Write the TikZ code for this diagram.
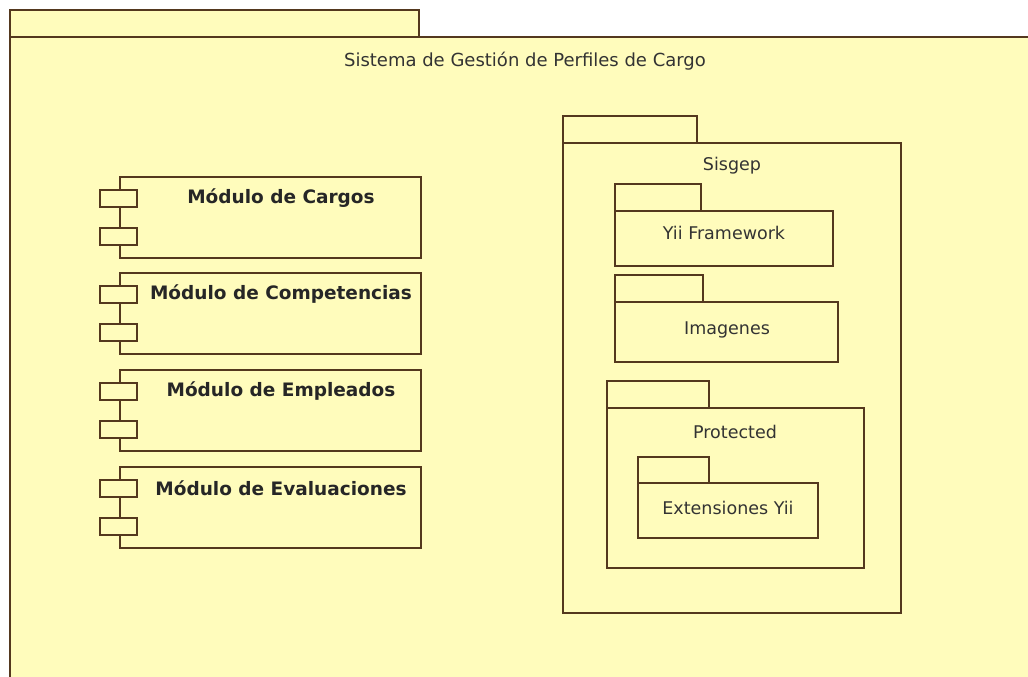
\documentclass[tikz,border=0pt]{standalone}
\usepackage{fontspec}
\setmainfont{DejaVu Sans}
\usetikzlibrary{positioning}

\definecolor{umlfill}{RGB}{255,252,188}
\definecolor{umlline}{RGB}{84,56,30}

\begin{document}
\begin{tikzpicture}[x=1pt,y=-1pt,
  pkgbody/.style={draw=umlline, fill=umlfill, line width=1.5pt, rectangle, anchor=north west, inner sep=0pt, outer sep=0pt},
  pkgtab/.style={draw=umlline, fill=umlfill, line width=1.5pt},
  pkgname/.style={font=\fontsize{17.5}{19}\selectfont, text=black!80},
  modbox/.style={draw=umlline, fill=umlfill, line width=1.5pt, anchor=north west, minimum width=301pt, minimum height=81pt, inner sep=0pt, outer sep=0pt},
  modport/.style={draw=umlline, fill=umlfill, line width=1.5pt, minimum width=37pt, minimum height=17pt, inner sep=0pt, outer sep=0pt},
  modname/.style={font=\bfseries\fontsize{18.5}{20}\selectfont, text=black!85}]

  \useasboundingbox (0,0) rectangle (1028,677);
  \clip (0,0) rectangle (1028,677);
  \fill[white] (0,0) rectangle (1028,677);

  % outer package
  \node[pkgbody, minimum width=1040pt, minimum height=660pt] (sys) at (10,37) {};
  \draw[pkgtab] (sys.north west) rectangle ++(409,-27);
  \node[pkgname, font=\fontsize{18}{20}\selectfont] (systitle) at (525,61) {Sistema de Gestión de Perfiles de Cargo};

  % modules
  \foreach \i/\name/\y in {1/Cargos/177, 2/Competencias/273, 3/Empleados/370, 4/Evaluaciones/467} {
    \node[modbox] (mod\i) at (120,\y) {};
    \node[modport] (porta\i) at (118.5,\y+21.5) {};
    \node[modport] (portb\i) at (118.5,\y+59.5) {};
    \node[modname] (modt\i) at (281,\y+21) {Módulo de \name};
  }

  % Sisgep
  \node[pkgbody, minimum width=338pt, minimum height=470pt] (sisgep) at (563,143) {};
  \draw[pkgtab] (sisgep.north west) rectangle ++(134,-27);
  \node[pkgname] (sisgept) at (732,166) {Sisgep};

  \node[pkgbody, minimum width=218pt, minimum height=55pt] (yii) at (615,211) {};
  \draw[pkgtab] (yii.north west) rectangle ++(86,-27);
  \node[pkgname] (yiit) at (724,233) {Yii Framework};

  \node[pkgbody, minimum width=223pt, minimum height=60pt] (img) at (615,302) {};
  \draw[pkgtab] (img.north west) rectangle ++(88,-27);
  \node[pkgname] (imgt) at (727,330) {Imagenes};

  \node[pkgbody, minimum width=257pt, minimum height=160pt] (prot) at (607,408) {};
  \draw[pkgtab] (prot.north west) rectangle ++(102,-27);
  \node[pkgname] (prott) at (735,432) {Protected};

  \node[pkgbody, minimum width=180pt, minimum height=55pt] (ext) at (638,483) {};
  \draw[pkgtab] (ext.north west) rectangle ++(71,-26);
  \node[pkgname] (extt) at (728,508) {Extensiones Yii};
\end{tikzpicture}
\end{document}
